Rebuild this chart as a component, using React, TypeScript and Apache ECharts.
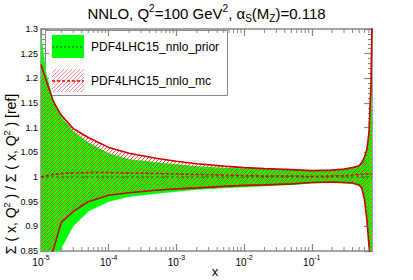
import React, { useEffect, useRef } from 'react';
import * as echarts from 'echarts';

// x grid (log scale)
const xs = [1e-5, 1.2e-5, 1.5e-5, 2e-5, 3e-5, 5e-5, 1e-4, 2e-4, 5e-4, 1e-3, 2e-3, 5e-3, 1e-2, 2e-2, 5e-2, 0.1, 0.2, 0.3, 0.4, 0.5, 0.55, 0.6, 0.65, 0.7, 0.75, 0.776];
// PDF4LHC15_nnlo_prior band (green)
const priorUp = [1.29, 1.21, 1.16, 1.122, 1.093, 1.07, 1.048, 1.036, 1.030, 1.026, 1.022, 1.019, 1.017, 1.016, 1.014, 1.013, 1.014, 1.016, 1.019, 1.024, 1.031, 1.042, 1.055, 1.09, 1.2, 1.32];
const priorLo = [0.70, 0.745, 0.80, 0.855, 0.90, 0.930, 0.950, 0.960, 0.966, 0.970, 0.974, 0.977, 0.979, 0.981, 0.984, 0.987, 0.988, 0.987, 0.986, 0.982, 0.975, 0.952, 0.912, 0.858, 0.80, 0.77];
const priorMid = [1, 1, 1, 1, 1, 1, 1, 1, 1, 1, 1, 1, 1, 1, 1, 1, 1, 1, 1, 1, 1, 1, 1, 1, 1, 1];
// PDF4LHC15_nnlo_mc band (red hatched)
const mcUp = [1.228, 1.195, 1.155, 1.125, 1.098, 1.08, 1.060, 1.048, 1.038, 1.032, 1.027, 1.022, 1.019, 1.017, 1.015, 1.013, 1.014, 1.016, 1.019, 1.023, 1.030, 1.040, 1.055, 1.09, 1.19, 1.31];
const mcLo = [0.76, 0.80, 0.85, 0.908, 0.930, 0.950, 0.963, 0.968, 0.973, 0.976, 0.978, 0.981, 0.983, 0.984, 0.986, 0.989, 0.990, 0.989, 0.988, 0.984, 0.977, 0.955, 0.915, 0.862, 0.81, 0.78];
const mcMid = [1.000, 1.003, 1.005, 1.007, 1.008, 1.009, 1.009, 1.008, 1.007, 1.006, 1.005, 1.004, 1.003, 1.002, 1.002, 1.001, 1.002, 1.003, 1.004, 1.005, 1.005, 1.006, 1.006, 1.006, 1.006, 1.006];
// minor tick positions of the log x axis
const xMinorTicks = [
  2e-5, 3e-5, 4e-5, 5e-5, 6e-5, 7e-5, 8e-5, 9e-5,
  2e-4, 3e-4, 4e-4, 5e-4, 6e-4, 7e-4, 8e-4, 9e-4,
  2e-3, 3e-3, 4e-3, 5e-3, 6e-3, 7e-3, 8e-3, 9e-3,
  2e-2, 3e-2, 4e-2, 5e-2, 6e-2, 7e-2, 8e-2, 9e-2,
  0.2, 0.3, 0.4, 0.5, 0.6, 0.7,
];
const legendNames = ['PDF4LHC15_nnlo_prior', 'PDF4LHC15_nnlo_mc'];

const FONT = 'Liberation Sans, Arial, Helvetica, sans-serif';
const AX = '#888';
const HATCH_STEP = 4;

// diagonal "/" hatch lines (y = c - x) clipped to a rectangle
function hatchLines(x0: number, y0: number, x1: number, y1: number, stroke: string, lineWidth: number) {
  const out: any[] = [];
  for (let c = x0 + y0; c <= x1 + y1; c += HATCH_STEP) {
    const xa = Math.max(x0, c - y1);
    const xb = Math.min(x1, c - y0);
    if (xb - xa < 0.2) continue;
    out.push({ type: 'line', shape: { x1: xa, y1: c - xa, x2: xb, y2: c - xb }, style: { stroke, lineWidth } });
  }
  return out;
}

function bandRenderer(up: number[], lo: number[], kind: 'fill' | 'hatch') {
  return (params: any, api: any) => {
    if (params.dataIndex !== 0) return null;
    const pts: number[][] = [];
    for (let i = 0; i < xs.length; i++) pts.push(api.coord([xs[i], up[i]]));
    for (let i = xs.length - 1; i >= 0; i--) pts.push(api.coord([xs[i], lo[i]]));
    const cs = params.coordSys;
    const rectClip = { type: 'rect', shape: { x: cs.x, y: cs.y, width: cs.width, height: cs.height } };
    if (kind === 'fill') {
      return {
        type: 'group', clipPath: rectClip,
        children: [{ type: 'polygon', shape: { points: pts }, style: { fill: '#00ff00', stroke: null } }],
      };
    }
    return {
      type: 'group', clipPath: rectClip,
      children: [{
        type: 'group',
        clipPath: { type: 'polygon', shape: { points: pts } },
        children: hatchLines(cs.x, cs.y, cs.x + cs.width, cs.y + cs.height, '#ff3030', 0.85),
      }],
    };
  };
}

const pairs = (ys: number[]) => xs.map((x, i) => [x, ys[i]]);

export default function App() {
  const ref = useRef<HTMLDivElement>(null);
  useEffect(() => {
    const chart = echarts.init(ref.current!, null, { renderer: 'svg' });

    const titleRich = {
      a: { fontSize: 15, fontFamily: FONT, color: '#000', fontWeight: 'normal', lineHeight: 20 },
      s: { fontSize: 10, fontFamily: FONT, color: '#000', fontWeight: 'normal', lineHeight: 11, verticalAlign: 'top' },
      u: { fontSize: 10, fontFamily: FONT, color: '#000', fontWeight: 'normal', lineHeight: 11, verticalAlign: 'bottom' },
    };
    const yRich = {
      a: { fontSize: 14, fontFamily: FONT, color: '#000', lineHeight: 18 },
      s: { fontSize: 9, fontFamily: FONT, color: '#000', lineHeight: 10, verticalAlign: 'top' },
    };

    const xLabel = (v: number) => {
      const l = Math.log10(v);
      const e = Math.round(l);
      if (Math.abs(l - e) > 1e-6) return '';
      return `{b|10}{s|${e}}`;
    };
    const xRich = {
      b: { fontSize: 10, fontFamily: FONT, color: '#000', lineHeight: 13, verticalAlign: 'bottom' },
      s: { fontSize: 7, fontFamily: FONT, color: '#000', lineHeight: 7, verticalAlign: 'top' },
    };

    const baseX = {
      type: 'log', logBase: 10, min: 1e-5, max: 0.776, splitNumber: 5,
      axisLine: { show: true, onZero: false, lineStyle: { color: AX, width: 1.5 } },
      axisTick: { show: true, inside: true, length: 7, lineStyle: { color: AX, width: 1.2 } },
      minorTick: { show: false }, splitLine: { show: false }, minorSplitLine: { show: false },
    };
    const baseY = {
      type: 'value', min: 0.85, max: 1.3, interval: 0.05,
      axisLine: { show: true, onZero: false, lineStyle: { color: AX, width: 1.5 } },
      axisTick: { show: true, inside: true, length: 8, lineStyle: { color: AX, width: 1.2 } },
      minorTick: { show: true, splitNumber: 5, length: 4, lineStyle: { color: AX, width: 1 } },
      splitLine: { show: false }, minorSplitLine: { show: false },
    };

    // legend swatch geometry
    const sw = { x: 52, w: 32, h: 23, y1: 35, y2: 69 };

    chart.setOption({
      animation: false,
      backgroundColor: '#fff',
      title: {
        text: '{a|NNLO, Q}{s|2}{a|=100 GeV}{s|2}{a|, α}{u|S}{a|(M}{u|Z}{a|)=0.118}',
        left: 'center', top: 3, padding: 0,
        textStyle: { rich: titleRich, fontWeight: 'normal' },
      },
      grid: { left: 41, right: 41, top: 29, bottom: 29, containLabel: false, outerBoundsMode: 'none' },
      xAxis: [
        { ...baseX, position: 'bottom', axisLabel: { show: true, margin: 3, formatter: xLabel, rich: xRich, showMaxLabel: false, hideOverlap: false } },
        { ...baseX, position: 'top', axisLabel: { show: false } },
      ],
      yAxis: [
        { ...baseY, position: 'left', axisLabel: { show: true, margin: 3, fontSize: 9, fontFamily: FONT, color: '#000' } },
        { ...baseY, position: 'right', axisLabel: { show: false } },
      ],
      series: [
        {
          name: legendNames[0] + ' band', type: 'custom', xAxisIndex: 0, yAxisIndex: 0, z: 1, silent: true, clip: true,
          data: [[xs[0], 1]], renderItem: bandRenderer(priorUp, priorLo, 'fill'),
        },
        {
          name: legendNames[0], type: 'line', data: pairs(priorMid), symbol: 'none', z: 2, silent: true,
          lineStyle: { color: '#1f5a00', width: 1, type: [3, 2] },
        },
        {
          name: legendNames[1] + ' band', type: 'custom', xAxisIndex: 0, yAxisIndex: 0, z: 3, silent: true, clip: true,
          data: [[xs[0], 1]], renderItem: bandRenderer(mcUp, mcLo, 'hatch'),
        },
        {
          name: legendNames[1] + ' up', type: 'line', data: pairs(mcUp), symbol: 'none', z: 4, silent: true,
          lineStyle: { color: '#cc0000', width: 1.6 },
        },
        {
          name: legendNames[1] + ' lo', type: 'line', data: pairs(mcLo), symbol: 'none', z: 4, silent: true,
          lineStyle: { color: '#cc0000', width: 1.6 },
        },
        {
          name: legendNames[1], type: 'line', data: pairs(mcMid), symbol: 'none', z: 4, silent: true,
          lineStyle: { color: '#e00000', width: 1.5, type: [3, 2] },
        },
        {
          name: 'x minor ticks', type: 'custom', xAxisIndex: 0, yAxisIndex: 0, z: 6, silent: true,
          data: xMinorTicks.map((v) => [v, 1]),
          renderItem: (params: any, api: any) => {
            const v = api.value(0);
            const b = api.coord([v, 0.85]);
            const t = api.coord([v, 1.3]);
            const ls = { stroke: AX, lineWidth: 1 };
            return {
              type: 'group',
              children: [
                { type: 'line', shape: { x1: b[0], y1: b[1], x2: b[0], y2: b[1] - 4 }, style: ls },
                { type: 'line', shape: { x1: t[0], y1: t[1], x2: t[0], y2: t[1] + 4 }, style: ls },
              ],
            };
          },
        },
      ],
      graphic: [
        {
          type: 'text', x: 11, y: 174, rotation: Math.PI / 2, z: 10,
          style: {
            text: '{a|Σ ( x, Q}{s|2}{a| ) / Σ ( x, Q}{s|2}{a| ) [ref]}',
            rich: yRich, align: 'center', verticalAlign: 'middle',
          },
        },
        {
          type: 'text', x: 215, y: 271, z: 10,
          style: { text: 'x', fontSize: 13, fontFamily: FONT, fill: '#000', align: 'center', verticalAlign: 'middle' },
        },
        {
          type: 'group', z: 20,
          children: [
            { type: 'rect', shape: { x: 45.5, y: 30.5, width: 182, height: 65 }, style: { fill: '#fff', stroke: AX, lineWidth: 1 } },
            { type: 'rect', shape: { x: sw.x, y: sw.y1, width: sw.w, height: sw.h }, style: { fill: '#00ff00' } },
            { type: 'line', shape: { x1: sw.x, y1: sw.y1 + 12, x2: sw.x + sw.w, y2: sw.y1 + 12 }, style: { stroke: '#1f5a00', lineWidth: 1, lineDash: [2, 2] } },
            ...hatchLines(sw.x, sw.y2, sw.x + sw.w, sw.y2 + sw.h, '#ff7070', 0.8),
            { type: 'line', shape: { x1: sw.x, y1: sw.y2 + 12, x2: sw.x + sw.w, y2: sw.y2 + 12 }, style: { stroke: '#e00000', lineWidth: 1.5, lineDash: [3, 2] } },
            { type: 'text', x: 91, y: 47, style: { text: legendNames[0], fontSize: 12, fontFamily: FONT, fill: '#000', verticalAlign: 'middle' } },
            { type: 'text', x: 91, y: 81, style: { text: legendNames[1], fontSize: 12, fontFamily: FONT, fill: '#000', verticalAlign: 'middle' } },
          ],
        },
      ],
    });
    return () => chart.dispose();
  }, []);
  return <div ref={ref} style={{ position: 'fixed', left: 0, top: 0, width: 413, height: 280 }} />;
}
